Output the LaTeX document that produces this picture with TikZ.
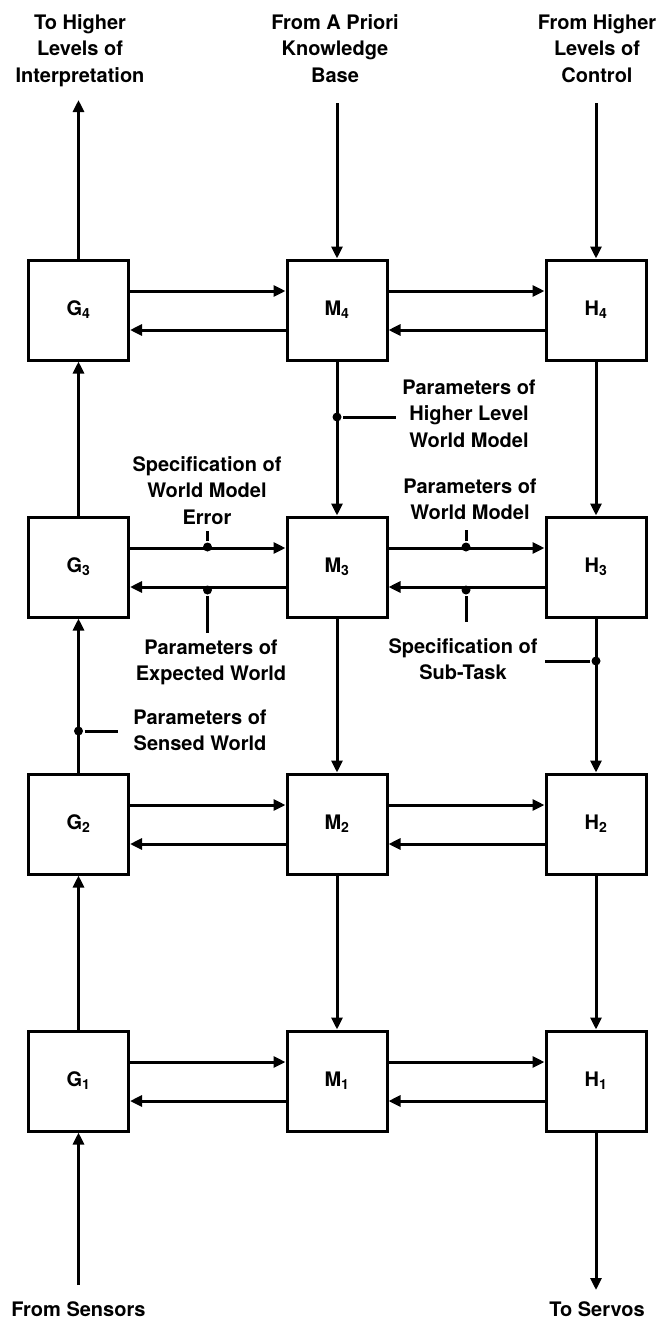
\documentclass[tikz,border=0pt]{standalone}
\usepackage{fontspec}
\setmainfont{TeX Gyre Heros}
\usetikzlibrary{arrows.meta}
\usetikzlibrary{positioning}

\begin{document}
\begin{tikzpicture}[x=1pt,y=-1pt,line width=3pt,>={Triangle[length=12pt,width=11pt]},
					every node/.style = {font=\bfseries\fontsize{20}{26.5}\selectfont}]

\tikzstyle{block}=[draw, rectangle, minimum width=100pt, minimum height=100pt, inner sep=0pt]
\tikzstyle{tag}=[align=center, inner sep=0pt]
\tikzstyle{dot}=[circle, fill, inner sep=0pt, minimum size=9pt]

\useasboundingbox (0,0) rectangle (661,1320);

% three columns G, M, H; level 4 on top
\foreach \i/\y in {4/310,3/567,2/824,1/1081} {
	\node[block] (G\i) at (78.5,\y) {G\textsubscript{\i}};
	\node[block] (M\i) at (337,\y) {M\textsubscript{\i}};
	\node[block] (H\i) at (596,\y) {H\textsubscript{\i}};
	\draw[->] ([yshift=19pt]G\i.east) -- ([yshift=19pt]M\i.west);
	\draw[->] ([yshift=-20pt]M\i.west) -- ([yshift=-20pt]G\i.east);
	\draw[->] ([yshift=19pt]M\i.east) -- ([yshift=19pt]H\i.west);
	\draw[->] ([yshift=-20pt]H\i.west) -- ([yshift=-20pt]M\i.east);
}
\foreach \i/\j in {1/2,2/3,3/4} {
	\draw[->] (G\i) -- (G\j);
	\draw[->] (M\j) -- (M\i);
	\draw[->] (H\j) -- (H\i);
}

% ins and outs
\coordinate (outInterp) at (78.5,100);
\coordinate (inKnow) at (337,103);
\coordinate (inControl) at (596,103);
\coordinate (inSensors) at (78.5,1285);
\coordinate (outServos) at (596,1290);
\draw[->] (G4) -- (outInterp);
\draw[->] (inKnow) -- (M4);
\draw[->] (inControl) -- (H4);
\draw[->] (inSensors) -- (G1);
\draw[->] (H1) -- (outServos);

\node[tag, anchor=north] (lblInterp) at (80,13) {To Higher\\Levels of\\Interpretation};
\node[tag, anchor=north] (lblKnow) at (335,13) {From A Priori\\Knowledge\\Base};
\node[tag, anchor=north] (lblControl) at (597,13) {From Higher\\Levels of\\Control};
\node[tag, below=15pt of inSensors] (lblSensors) {From Sensors};
\node[tag, anchor=north] (lblServos) at (597,1300) {To Servos};

% tapped signals
\node[dot] (dotHigher) at (337,417) {};
\node[dot] (dotError) at (207.5,547) {};
\node[dot] (dotModel) at (466,547) {};
\node[dot] (dotExpected) at (207.5,590) {};
\node[dot] (dotSubtask) at (466,590) {};
\node[dot] (dotTask) at (596,661) {};
\node[dot] (dotSensed) at (78.5,731) {};

\coordinate (tickHigher) at (396,417);
\coordinate (tickError) at (207.5,531);
\coordinate (tickModel) at (466,530);
\coordinate (tickExpected) at (207.5,633);
\coordinate (tickSubtask) at (466,622);
\coordinate (tickTask) at (545,661);
\coordinate (tickSensed) at (118,731);
\draw (dotHigher) -- (tickHigher);
\draw (dotError) -- (tickError);
\draw (dotModel) -- (tickModel);
\draw (dotExpected) -- (tickExpected);
\draw (dotSubtask) -- (tickSubtask);
\draw (dotTask) -- (tickTask);
\draw (dotSensed) -- (tickSensed);

\node[tag, anchor=north] (lblHigher) at (469,378) {Parameters of\\Higher Level\\World Model};
\node[tag, anchor=north] (lblError) at (207,455) {Specification of\\World Model\\Error};
\node[tag, anchor=north] (lblModel) at (470,477) {Parameters of\\World Model};
\node[tag, anchor=north] (lblExpected) at (211,638) {Parameters of\\Expected World};
\node[tag, anchor=north] (lblSubtask) at (463,637) {Specification of\\Sub-Task};
\node[tag, anchor=north] (lblSensed) at (200,708) {Parameters of\\Sensed World};
\end{tikzpicture}
\end{document}
